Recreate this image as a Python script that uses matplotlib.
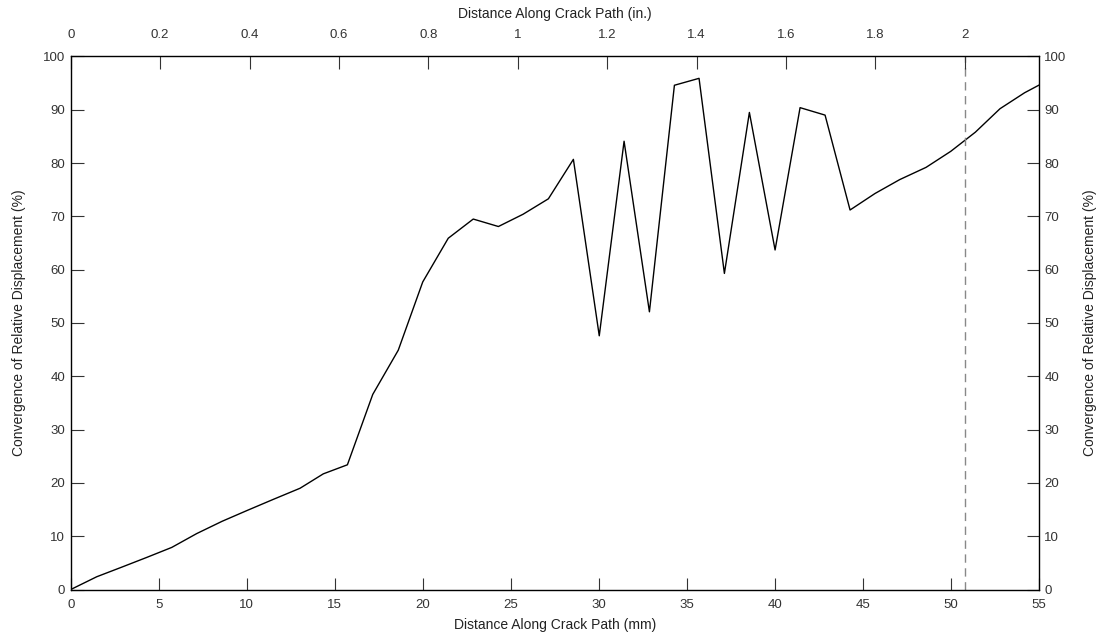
import matplotlib
matplotlib.use('Agg')
import matplotlib.pyplot as plt

plt.rcParams['font.family'] = ['Liberation Sans', 'DejaVu Sans']

# distance along crack path (mm) and convergence (%)
dist_mm = [0.0, 1.48, 2.9, 4.3, 5.74, 7.16, 8.6, 10.0, 11.5, 13.03, 14.35, 15.72,
           17.16, 18.61, 20.0, 21.45, 22.87, 24.3, 25.7, 27.14, 28.56, 30.03,
           31.44, 32.88, 34.3, 35.7, 37.14, 38.56, 40.02, 41.44, 42.86, 44.28,
           45.7, 47.1, 48.6, 50.0, 51.4, 52.8, 54.2, 55.0]
conv = [0.0, 2.4, 4.2, 6.0, 7.9, 10.5, 12.8, 14.8, 16.9, 19.0, 21.7, 23.4,
        36.6, 44.9, 57.7, 65.9, 69.5, 68.1, 70.4, 73.3, 80.7, 47.6,
        84.1, 52.1, 94.6, 95.9, 59.3, 89.5, 63.7, 90.4, 89.0, 71.2,
        74.3, 76.9, 79.2, 82.2, 85.8, 90.2, 93.2, 94.6]
ref_in = 2.0
xticks_mm = list(range(0, 56, 5))
xticks_in = [0, 0.2, 0.4, 0.6, 0.8, 1, 1.2, 1.4, 1.6, 1.8, 2]
yticks = list(range(0, 101, 10))
ylab = 'Convergence of Relative Displacement (%)'
TXT = '#222222'; TK = '#333333'

fig = plt.figure(figsize=(11, 6.41), dpi=100)
ax = fig.add_axes([0.0643, 0.0803, 0.88, 0.8316])
ax.plot(dist_mm, conv, color='black', lw=1.0)
ax.axvline(ref_in * 25.4, color='#888888', lw=1.0, ls=(0, (6, 4)))
ax.set_xlim(0, 55); ax.set_ylim(0, 100)
ax.set_xticks(xticks_mm); ax.set_yticks(yticks)
ax.set_xticklabels([str(v) for v in xticks_mm])
ax.set_xlabel('Distance Along Crack Path (mm)', fontsize=10, color=TXT, labelpad=5)
ax.set_ylabel(ylab, fontsize=10, color=TXT, labelpad=12)
ax.tick_params(direction='in', length=9, width=0.8, labelsize=9.5, colors=TK)
ax.tick_params(axis='x', pad=7)
ax.tick_params(axis='y', pad=4)
for s in ax.spines.values():
    s.set_color(TK); s.set_linewidth(0.9)

top = ax.twiny()
top.set_xlim(0, 55 / 25.4)
top.set_xticks(xticks_in)
top.set_xticklabels([f'{v:g}' for v in xticks_in])
top.set_xlabel('Distance Along Crack Path (in.)', fontsize=10, color=TXT, labelpad=8)
top.tick_params(direction='in', length=9, width=0.8, labelsize=9.5, colors=TK, pad=11)

right = ax.twinx()
right.set_ylim(0, 100); right.set_yticks(yticks)
right.set_ylabel(ylab, fontsize=10, color=TXT, labelpad=12)
right.tick_params(direction='in', length=9, width=0.8, labelsize=9.5, colors=TK, pad=4)

fig.savefig('out.png', dpi=100)
